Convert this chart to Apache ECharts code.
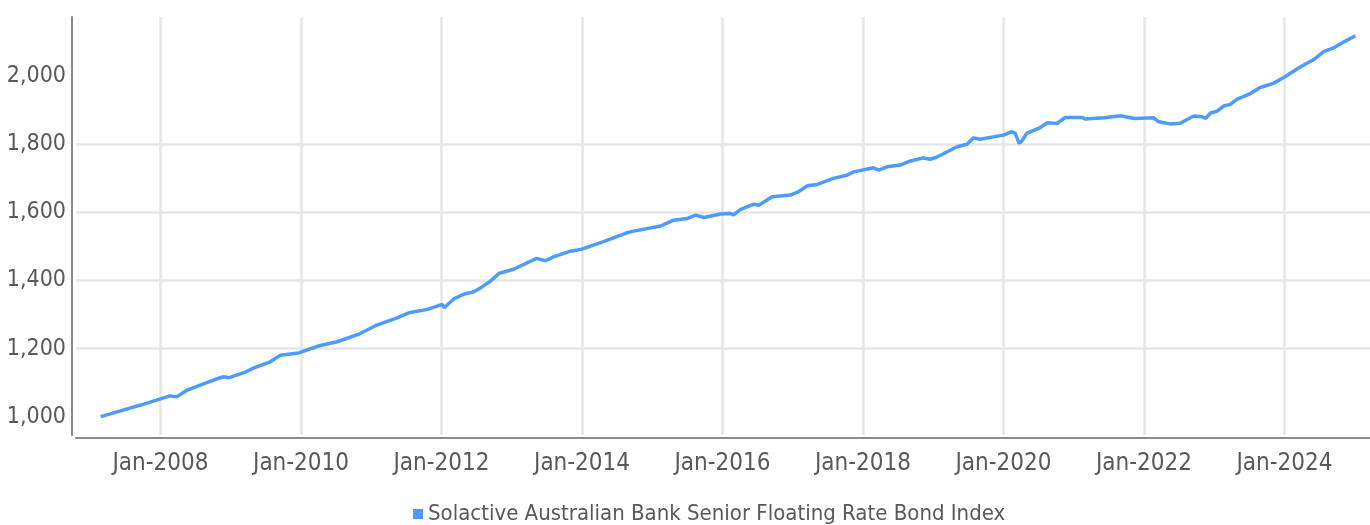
<!DOCTYPE html>
<html>
<head>
<meta charset="utf-8">
<script src="https://cdn.jsdelivr.net/npm/echarts@6/dist/echarts.min.js"></script>
<style>
  html, body { margin: 0; padding: 0; background: #fff; }
  #chart { width: 1370px; height: 525px; }
</style>
</head>
<body>
<div id="chart"></div>
<script>
// index level (approximate)
const seriesName = 'Solactive Australian Bank Senior Floating Rate Bond Index'

const dates = [
  '2007-02-25', '2007-09-20', '2008-02-20', '2008-03-25', '2008-05-20', '2008-08-15',
  '2008-10-25', '2008-11-25', '2008-12-20', '2009-03-10', '2009-05-01', '2009-07-25',
  '2009-09-15', '2009-12-20', '2010-04-10', '2010-07-08', '2010-11-05', '2011-01-30',
  '2011-05-15', '2011-07-22', '2011-10-20', '2012-01-05', '2012-01-15', '2012-03-08',
  '2012-04-28', '2012-06-18', '2012-07-30', '2012-09-12', '2012-10-27', '2013-01-10',
  '2013-05-10', '2013-06-25', '2013-08-08', '2013-11-03', '2014-01-01', '2014-04-22',
  '2014-08-22', '2014-09-27', '2015-02-14', '2015-04-22', '2015-07-01', '2015-08-15',
  '2015-09-27', '2015-12-20', '2016-02-10', '2016-02-28', '2016-04-05', '2016-06-13',
  '2016-07-08', '2016-09-16', '2016-12-20', '2017-02-03', '2017-03-18', '2017-05-08',
  '2017-07-31', '2017-10-08', '2017-11-14', '2018-02-24', '2018-03-25', '2018-05-05',
  '2018-07-13', '2018-09-05', '2018-11-10', '2018-12-16', '2019-01-18', '2019-03-15',
  '2019-05-05', '2019-06-25', '2019-07-30', '2019-09-01', '2020-01-01', '2020-02-14',
  '2020-03-03', '2020-03-22', '2020-04-05', '2020-05-01', '2020-07-13', '2020-08-15',
  '2020-10-05', '2020-11-18', '2021-02-13', '2021-03-03', '2021-06-06', '2021-09-02',
  '2021-11-10', '2022-02-20', '2022-03-18', '2022-05-18', '2022-07-08', '2022-09-16',
  '2022-10-30', '2022-11-17', '2022-12-13', '2023-01-15', '2023-02-20', '2023-03-25',
  '2023-05-01', '2023-07-08', '2023-08-28', '2023-11-05', '2024-01-08', '2024-03-25',
  '2024-06-02', '2024-07-23', '2024-09-12', '2024-11-06', '2025-01-04'
]

const values = [
  1000, 1034, 1061, 1058, 1078, 1097,
  1112, 1117, 1114, 1129, 1143, 1161,
  1180, 1187, 1209, 1220, 1244, 1269,
  1290, 1306, 1315, 1330, 1320, 1347,
  1360, 1367, 1381, 1398, 1421, 1433,
  1465, 1458, 1470, 1486, 1492, 1514,
  1540, 1545, 1560, 1577, 1582, 1592,
  1585, 1595, 1597, 1593, 1609, 1624,
  1621, 1646, 1651, 1662, 1678, 1682,
  1700, 1709, 1719, 1731, 1724, 1734,
  1739, 1751, 1760, 1756, 1762, 1778,
  1793, 1800, 1819, 1815, 1827, 1837,
  1832, 1803, 1809, 1832, 1850, 1863,
  1861, 1879, 1879, 1874, 1878, 1884,
  1876, 1878, 1866, 1860, 1862, 1883,
  1881, 1876, 1892, 1897, 1913, 1917,
  1933, 1949, 1967, 1979, 2000, 2028,
  2049, 2072, 2083, 2101, 2119
]

const xTicks = [
  '2008-01-01', '2010-01-01', '2012-01-01', '2014-01-01', '2016-01-01',
  '2018-01-01', '2020-01-01', '2022-01-01', '2024-01-01'
]
const yTicks = [1000, 1200, 1400, 1600, 1800, 2000]
const months = ['Jan', 'Feb', 'Mar', 'Apr', 'May', 'Jun', 'Jul', 'Aug', 'Sep', 'Oct', 'Nov', 'Dec']

const lineColor = '#4d9bff'
const textColor = '#595959'
const fontFamily = '"Liberation Sans Narrow", "DejaVu Sans Condensed", "Roboto", sans-serif'

const toTime = (s) => echarts.number.parseDate(s).getTime()

const chart = echarts.init(document.getElementById('chart'), null, { renderer: 'canvas' })

chart.setOption({
  animation: false,
  backgroundColor: '#fff',
  grid: { left: 76, right: 0, top: 17, bottom: 90 },
  legend: {
    data: [seriesName],
    left: 408,
    top: 498,
    icon: 'rect',
    itemWidth: 10,
    itemHeight: 10,
    textStyle: { fontSize: 22, color: textColor, fontFamily }
  },
  xAxis: {
    // timestamps on a plain value axis so the even-year ticks can be placed exactly
    type: 'value',
    min: toTime('2006-10-19'),
    max: toTime('2025-03-21'),
    offset: 3,
    axisLine: { show: true, onZero: false, lineStyle: { color: '#8a8a8a', width: 2 } },
    axisTick: { show: false, customValues: xTicks.map(toTime) },
    axisLabel: {
      customValues: xTicks.map(toTime),
      margin: 14,
      fontSize: 24,
      color: textColor,
      fontFamily,
      formatter: (v) => {
        const d = new Date(v)
        return months[d.getMonth()] + '-' + d.getFullYear()
      }
    },
    splitLine: { show: true, lineStyle: { color: '#e6e6e6', width: 2.5 } }
  },
  yAxis: {
    type: 'value',
    min: 946,
    max: 2174,
    offset: 4,
    axisLine: { show: true, lineStyle: { color: '#8a8a8a', width: 2 } },
    axisTick: { show: false, customValues: yTicks },
    axisLabel: {
      customValues: yTicks,
      margin: 6,
      fontSize: 23,
      color: textColor,
      fontFamily,
      formatter: (v) => v.toLocaleString('en-US')
    },
    splitLine: {
      show: true,
      showMinLine: false,
      showMaxLine: false,
      lineStyle: { color: '#e6e6e6', width: 2.5 }
    }
  },
  series: [{
    name: seriesName,
    type: 'line',
    showSymbol: false,
    color: lineColor,
    lineStyle: { color: lineColor, width: 3.5 },
    data: dates.map((d, i) => [toTime(d), values[i]])
  }]
})
</script>
</body>
</html>
